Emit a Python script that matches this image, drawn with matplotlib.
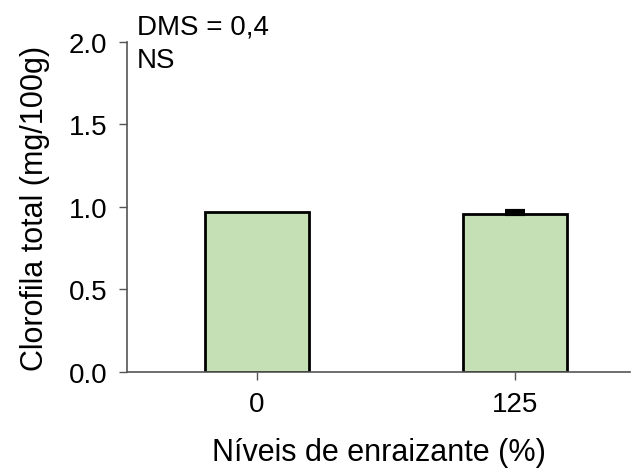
import matplotlib.pyplot as plt

plt.rcParams['font.family'] = ['Liberation Sans', 'DejaVu Sans']

niveis = ['0', '125']
clorofila = [0.971, 0.958]
erro = [0.0, 0.015]

fig = plt.figure(figsize=(6.32, 4.77), dpi=100)
ax = fig.add_axes([0.201, 0.218, 0.796, 0.692])

x = list(range(len(niveis)))
ax.bar(x, clorofila, width=0.40, color='#c5e0b4', edgecolor='black', linewidth=2.0, zorder=2)
# only bars with a visible error get a cap
for xi, yi, ei in zip(x, clorofila, erro):
    if ei > 0:
        ax.errorbar(xi, yi, yerr=[[0], [ei]], fmt='none', ecolor='black',
                    elinewidth=1.2, capsize=7, capthick=3, zorder=3)

ax.set_xlim(-0.504, 1.446)
ax.set_ylim(0, 2.0)
ax.set_yticks([0, 0.5, 1.0, 1.5, 2.0])
ax.set_yticklabels(['0.0', '0.5', '1.0', '1.5', '2.0'])
ax.set_xticks(x)
ax.set_xticklabels(niveis)

for side in ['top', 'right']:
    ax.spines[side].set_visible(False)
for side in ['left', 'bottom']:
    ax.spines[side].set_color('#555555')
    ax.spines[side].set_linewidth(1.2)

ax.tick_params(axis='both', direction='out', length=6, width=1.0, color='#555555',
               labelsize=20, pad=8)
ax.set_ylabel('Clorofila total (mg/100g)', fontsize=22, labelpad=14)
ax.set_xlabel('Níveis de enraizante (%)', fontsize=22, labelpad=14)

ax.text(0.02, 1.085, 'DMS = 0,4', transform=ax.transAxes, fontsize=20, va='top', ha='left')
ax.text(0.02, 0.985, 'NS', transform=ax.transAxes, fontsize=20, va='top', ha='left')

fig.savefig('out.png', dpi=100)
